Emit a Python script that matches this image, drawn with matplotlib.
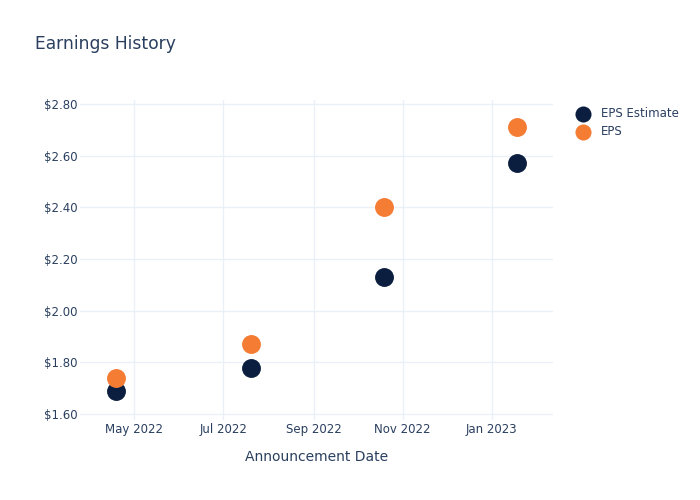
import numpy as np
import pandas as pd
import matplotlib.pyplot as plt
import matplotlib.dates as mdates

dates = pd.to_datetime(['2022-04-19', '2022-07-20', '2022-10-19', '2023-01-18'])
eps_estimate = [1.69, 1.78, 2.13, 2.57]
eps_actual = [1.74, 1.87, 2.40, 2.71]

txt = '#2a3f5f'
grid = '#ebf0f8'

fig = plt.figure(figsize=(7, 5), dpi=100)
ax = fig.add_axes([80 / 700, 80 / 500, 473 / 700, 320 / 500])

ax.scatter(dates, eps_estimate, s=185, color='#0c1e3f', label='EPS Estimate', zorder=3, linewidths=0)
ax.scatter(dates, eps_actual, s=185, color='#f47c33', label='EPS', zorder=3, linewidths=0)

ax.set_xlim(pd.Timestamp('2022-03-25'), pd.Timestamp('2023-02-12'))
ax.set_ylim(1.577, 2.815)
ax.set_yticks(np.arange(1.6, 2.81, 0.2))
ax.yaxis.set_major_formatter(plt.FuncFormatter(lambda v, p: f'${v:.2f}'))
ax.xaxis.set_major_locator(mdates.MonthLocator(bymonth=[1, 3, 5, 7, 9, 11]))
ax.xaxis.set_major_formatter(mdates.DateFormatter('%b %Y'))

for s in ax.spines.values():
    s.set_visible(False)
ax.grid(True, color=grid, linewidth=1)
ax.set_axisbelow(True)
ax.tick_params(axis='x', length=0, colors=txt, labelsize=8.5, pad=2)
ax.tick_params(axis='y', length=0, colors=txt, labelsize=8.5, pad=2)

ax.set_xlabel('Announcement Date', color=txt, fontsize=10, labelpad=10)
fig.text(35 / 700, 1 - 44 / 500, 'Earnings History', color=txt, fontsize=12.3, va='center', ha='left')

leg = fig.legend(loc='upper left', bbox_to_anchor=(561 / 700, 1 - 96 / 500), frameon=False,
                 fontsize=8.5, labelspacing=0.45, handletextpad=0.5, markerscale=0.85)
for t in leg.get_texts():
    t.set_color(txt)

fig.savefig('out.png', dpi=100)
